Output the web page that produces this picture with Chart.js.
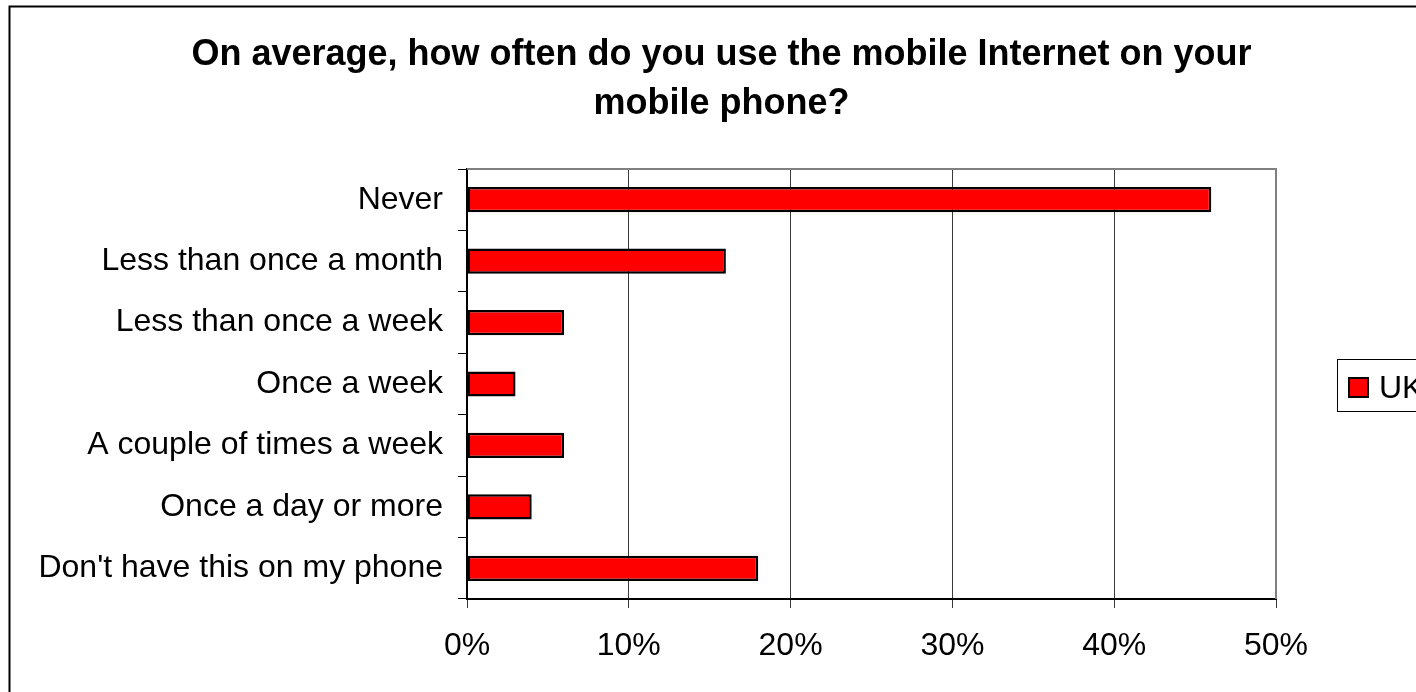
<!DOCTYPE html>
<html>
<head>
<meta charset="utf-8">
<script src="https://cdn.jsdelivr.net/npm/chart.js@4"></script>
<style>
  html, body { margin: 0; padding: 0; background: #fff; overflow: hidden; }
  #wrap { position: relative; width: 1416px; height: 692px; }
</style>
</head>
<body>
<div id="wrap"><canvas id="chart"></canvas></div>
<script>
// ================= DATA =================
const titleLines = ["On average, how often do you use the mobile Internet on your", "mobile phone?"];
const categories = [
  "Never",
  "Less than once a month",
  "Less than once a week",
  "Once a week",
  "A couple of times a week",
  "Once a day or more",
  "Don't have this on my phone"
];
const ukValues = [46, 16, 6, 3, 6, 4, 18];
const seriesName = "UK";
const xMax = 50;
const xStep = 10;

const FONT = "'Liberation Sans', Arial, sans-serif";

// frame round the whole chart (only left and top edges show)
const framePlugin = {
  id: "frame",
  beforeDraw(chart) {
    const c = chart.ctx;
    c.save();
    c.fillStyle = "#fff";
    c.fillRect(0, 0, chart.width, chart.height);
    c.strokeStyle = "#000";
    c.lineWidth = 2;
    c.beginPath();
    c.moveTo(9.5, chart.height);
    c.lineTo(9.5, 6.5);
    c.lineTo(chart.width, 6.5);
    c.stroke();
    c.restore();
  }
};

// title, drawn at a fixed centre
const titlePlugin = {
  id: "fixedTitle",
  afterDraw(chart) {
    const c = chart.ctx;
    c.save();
    c.font = "bold 36px " + FONT;
    c.fillStyle = "#000";
    c.textAlign = "center";
    c.textBaseline = "alphabetic";
    c.fillText(titleLines[0], 721.5, 65);
    c.fillText(titleLines[1], 721.5, 114);
    c.restore();
  }
};

// grey top / right edge of the plot area
const plotEdgePlugin = {
  id: "plotEdge",
  afterDatasetsDraw(chart) {
    const a = chart.chartArea;
    const c = chart.ctx;
    c.save();
    c.strokeStyle = "#808080";
    c.lineWidth = 2;
    c.beginPath();
    c.moveTo(a.left, a.top);
    c.lineTo(a.right, a.top);
    c.lineTo(a.right, a.bottom);
    c.stroke();
    c.restore();
  }
};

// legend box on the right, cut by the page edge like the original
const legendPlugin = {
  id: "sideLegend",
  afterDraw(chart) {
    const ds = chart.data.datasets[0];
    const c = chart.ctx;
    c.save();
    c.strokeStyle = "#000";
    c.lineWidth = 1;
    c.strokeRect(1337.5, 359.5, 200, 52);
    c.fillStyle = ds.backgroundColor;
    c.fillRect(1348, 377, 21, 21);
    c.lineWidth = 2;
    c.strokeRect(1349, 378, 19, 19);
    c.fillStyle = "#000";
    c.font = "32px " + FONT;
    c.textBaseline = "middle";
    c.fillText(ds.label, 1379, 389);
    c.restore();
  }
};

new Chart(document.getElementById("chart"), {
  type: "bar",
  data: {
    labels: categories,
    datasets: [{
      label: seriesName,
      data: ukValues,
      backgroundColor: "#ff0000",
      borderColor: "#000",
      borderWidth: 2.5,
      borderSkipped: false,
      barPercentage: 0.41,
      categoryPercentage: 1
    }]
  },
  options: {
    indexAxis: "y",
    responsive: true,
    maintainAspectRatio: false,
    animation: false,
    layout: { padding: { top: 169, right: 140, bottom: 33, left: 0 } },
    plugins: {
      legend: { display: false },
      title: { display: false },
      tooltip: { enabled: false }
    },
    scales: {
      x: {
        min: 0,
        max: xMax,
        ticks: {
          stepSize: xStep,
          padding: 19,
          color: "#000",
          font: { family: FONT, size: 32 },
          callback: v => v + "%"
        },
        grid: {
          color: ctx => (ctx.tick && ctx.tick.value === xMax ? "#808080" : "#3a3a3a"),
          tickColor: "#3a3a3a",
          tickLength: 9,
          lineWidth: 1
        },
        border: { color: "#000", width: 2 },
        afterFit: s => { s.height = 60; }
      },
      y: {
        ticks: {
          padding: 15,
          color: "#000",
          font: { family: FONT, size: 32 }
        },
        grid: {
          offset: true,
          drawOnChartArea: false,
          color: "#000",
          tickLength: 9
        },
        border: { color: "#000", width: 2 },
        afterFit: s => { s.width = 467; }
      }
    }
  },
  plugins: [framePlugin, titlePlugin, plotEdgePlugin, legendPlugin]
});
</script>
</body>
</html>
